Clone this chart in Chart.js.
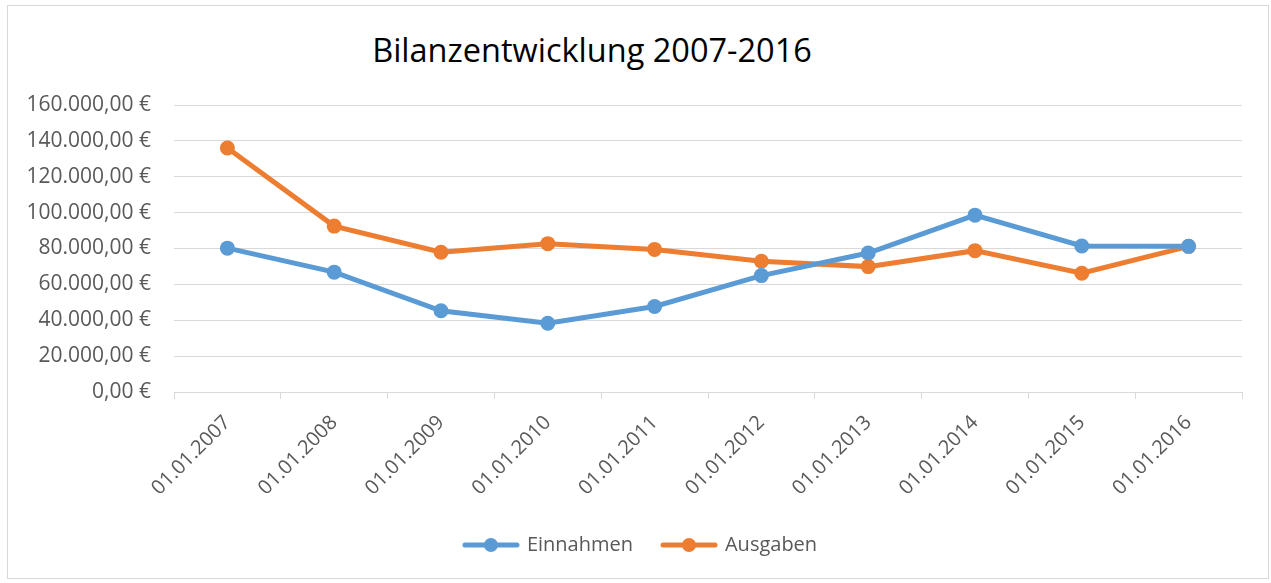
<!DOCTYPE html>
<html lang="de">
<head>
<meta charset="UTF-8">
<script src="https://cdn.jsdelivr.net/npm/chart.js"></script>
<style>
    body { margin: 0; background: #fff; font-family: "Open Sans", sans-serif; }
    #wrap { position: relative; width: 1271px; height: 583px; }
    #frame { position: absolute; left: 7px; top: 5px; width: 1260px; height: 572px; border: 1px solid #d9d9d9; }
    #title { position: absolute; left: 0; width: 1184px; top: 27px; text-align: center; font-size: 32.5px; color: #000; }
    canvas { position: absolute; left: 0; top: 0; }
</style>
</head>
<body>
<div id="wrap">
    <div id="frame"></div>
    <div id="title">Bilanzentwicklung 2007-2016</div>
    <canvas id="chart" width="1271" height="583"></canvas>
</div>
<script>
// Werte
const dates = ['01.01.2007', '01.01.2008', '01.01.2009', '01.01.2010', '01.01.2011',
               '01.01.2012', '01.01.2013', '01.01.2014', '01.01.2015', '01.01.2016'];
const einnahmen = [80200, 66800, 45300, 38300, 47700, 64900, 77500, 98600, 81400, 81200];
const ausgaben = [136000, 92500, 77900, 82700, 79500, 72900, 69900, 78800, 66200, 81200];
const yTicks = [0, 20000, 40000, 60000, 80000, 100000, 120000, 140000, 160000];

const blue = '#5b9bd5';
const orange = '#ed7d31';
const grey = '#595959';

function euro(v) {
    return v.toLocaleString('de-DE', { minimumFractionDigits: 2, maximumFractionDigits: 2 }) + ' €';
}

// legend symbol: line with dot like excel
function legendIcon(color) {
    const c = document.createElement('canvas');
    c.width = 58; c.height = 16;
    const g = c.getContext('2d');
    g.strokeStyle = color;
    g.lineWidth = 5;
    g.lineCap = 'round';
    g.beginPath(); g.moveTo(3, 8); g.lineTo(55, 8); g.stroke();
    g.fillStyle = color;
    g.beginPath(); g.arc(29, 8, 7, 0, Math.PI * 2); g.fill();
    return c;
}
const icons = [legendIcon(blue), legendIcon(orange)];

const font = { family: '"Open Sans", sans-serif', size: 20 };

// excel centres the legend a bit right of the plot centre
const shiftLegend = {
    id: 'shiftLegend',
    afterLayout(chart) {
        chart.legend.left += 20;
        chart.legend.right += 20;
    }
};

new Chart(document.getElementById('chart'), {
    type: 'line',
    data: {
        labels: dates,
        datasets: [{
            label: 'Einnahmen',
            data: einnahmen,
            borderColor: blue,
            backgroundColor: blue,
            borderWidth: 5,
            pointRadius: 7.5,
            pointHoverRadius: 7.5,
            pointBorderWidth: 0,
            tension: 0
        }, {
            label: 'Ausgaben',
            data: ausgaben,
            borderColor: orange,
            backgroundColor: orange,
            borderWidth: 5,
            pointRadius: 7.5,
            pointHoverRadius: 7.5,
            pointBorderWidth: 0,
            tension: 0
        }]
    },
    plugins: [shiftLegend],
    options: {
        responsive: false,
        animation: false,
        layout: { padding: { top: 105, right: 29, bottom: 18, left: 0 } },
        plugins: {
            tooltip: { enabled: false },
            legend: {
                position: 'bottom',
                labels: {
                    color: grey,
                    font: font,
                    usePointStyle: true,
                    pointStyleWidth: 52,
                    padding: 30,
                    generateLabels: function(chart) {
                        const items = Chart.defaults.plugins.legend.labels.generateLabels(chart);
                        items.forEach((it, i) => { it.pointStyle = icons[i]; });
                        return items;
                    }
                }
            }
        },
        scales: {
            x: {
                offset: true,
                grid: { offset: true, drawOnChartArea: false, drawTicks: true, tickLength: 7, color: '#d9d9d9' },
                border: { display: true, color: '#d9d9d9' },
                ticks: { color: grey, font: font, minRotation: 45, maxRotation: 45, padding: 12, autoSkip: false },
                afterFit: function(scale) { scale.height = 113; }
            },
            y: {
                min: 0,
                max: 160000,
                afterBuildTicks: function(scale) { scale.ticks = yTicks.map(v => ({ value: v })); },
                grid: { color: '#d9d9d9', drawTicks: false },
                border: { display: false },
                ticks: { color: grey, font: { family: font.family, size: 21 }, padding: 23, callback: v => euro(v) },
                afterFit: function(scale) { scale.width = 174; }
            }
        }
    }
});
</script>
</body>
</html>
